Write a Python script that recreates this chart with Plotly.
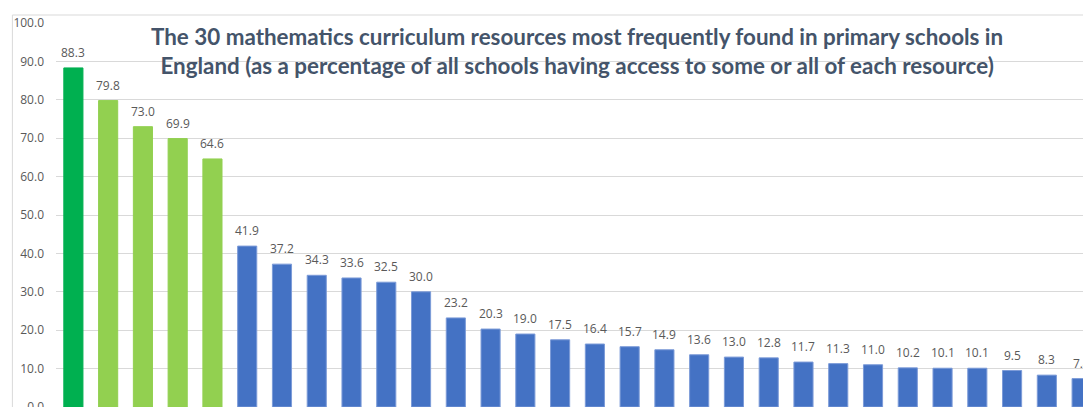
import plotly.graph_objects as go

ranks = [str(i) for i in range(1, 31)]
values = [88.3, 79.8, 73.0, 69.9, 64.6, 41.9, 37.2, 34.3, 33.6, 32.5, 30.0, 23.2,
          20.3, 19.0, 17.5, 16.4, 15.7, 14.9, 13.6, 13.0, 12.8, 11.7, 11.3, 11.0,
          10.2, 10.1, 10.1, 9.5, 8.3, 7.4]
colors = ["#00b050"] + ["#92d050"] * 4 + ["#4472c4"] * 25
line_colors = ["#00b050"] + ["#92d050"] * 4 + ["#7c9bd8"] * 25
tick_vals = [0, 10, 20, 30, 40, 50, 60, 70, 80, 90, 100]
tick_text = ["%.1f" % v for v in tick_vals]
title_text = ("The 30 mathematics curriculum resources most frequently found in primary schools in<br>"
              "England (as a percentage of all schools having access to some or all of each resource)")

fig = go.Figure()
fig.add_trace(go.Bar(
    x=ranks, y=values,
    marker=dict(color=colors, line=dict(color=line_colors, width=1)),
    hoverinfo="skip",
))

annotations = [
    dict(x=i, y=v, xref="x", yref="y", text="%.1f" % v, showarrow=False,
         yanchor="bottom", yshift=5,
         font=dict(family="Open Sans", size=12, color="#595959"))
    for i, v in enumerate(values)
]
annotations.append(dict(
    x=0.4997, y=0.927, xref="paper", yref="paper", text=title_text, showarrow=False,
    xanchor="center", yanchor="middle", align="center",
    font=dict(family="Lato", size=22.4, color="#44546a", weight="bold"),
))

fig.update_layout(
    width=1091, height=407,
    margin=dict(l=47.6, r=0, t=15, b=8.3, pad=0),
    paper_bgcolor="white", plot_bgcolor="white",
    bargap=0.45,
    showlegend=False,
    annotations=annotations,
    xaxis=dict(range=[-0.5, 29.5], showticklabels=False, showgrid=False,
               zeroline=False, showline=False, ticks=""),
    yaxis=dict(range=[0, 100], tickvals=tick_vals, ticktext=tick_text,
               showgrid=True, gridcolor="#d9d9d9", gridwidth=1, zeroline=False,
               showline=False, ticks="", ticklabelstandoff=11,
               ticklabeloverflow="allow",
               tickfont=dict(family="Open Sans", size=12, color="#595959")),
    shapes=[dict(type="rect", xref="paper", yref="paper",
                 x0=-0.0418, x1=1.05, y0=-0.1, y1=1.0208,
                 line=dict(color="#d9d9d9", width=1), fillcolor="rgba(0,0,0,0)",
                 layer="below")],
)

fig.write_html("out.html")
